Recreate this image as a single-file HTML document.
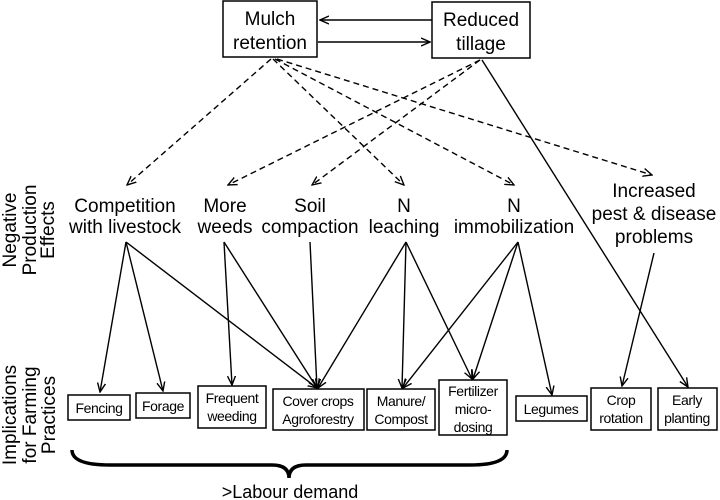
<!DOCTYPE html>
<html><head><meta charset="utf-8"><style>
html,body{margin:0;padding:0;background:#fff;}
svg{display:block;font-family:"Liberation Sans",Arial,sans-serif;}
</style></head><body>
<svg width="720" height="500" viewBox="0 0 720 500" xmlns="http://www.w3.org/2000/svg">
<defs>
<marker id="a" markerWidth="10" markerHeight="10" refX="9" refY="5" orient="auto" markerUnits="userSpaceOnUse">
<path d="M0,1 L9,5 L0,9" fill="none" stroke="#000" stroke-width="1.4"/>
</marker>
</defs>
<g fill="#fff" stroke="#000" stroke-width="1.5">
<rect x="223" y="1" width="94" height="56"/>
<rect x="432" y="2" width="98" height="56"/>
<rect x="68" y="395" width="62" height="25"/>
<rect x="136" y="393" width="54" height="25"/>
<rect x="198" y="386" width="68" height="42"/>
<rect x="273" y="389" width="91" height="41"/>
<rect x="367" y="389" width="68" height="41"/>
<rect x="439" y="380" width="68" height="55"/>
<rect x="516" y="396" width="71" height="25"/>
<rect x="591" y="388" width="60" height="42"/>
<rect x="658" y="388" width="59" height="42"/>
</g>
<g text-anchor="middle" font-size="19" fill="#000">
<text x="270" y="25">Mulch</text><text x="270" y="49">retention</text>
<text x="481" y="26">Reduced</text><text x="481" y="50">tillage</text>
<text x="125" y="212">Competition</text><text x="125" y="233">with livestock</text>
<text x="225" y="212">More</text><text x="225" y="233">weeds</text>
<text x="310" y="212">Soil</text><text x="310" y="233">compaction</text>
<text x="404" y="212">N</text><text x="404" y="233">leaching</text>
<text x="514" y="212">N</text><text x="514" y="233">immobilization</text>
<text x="654" y="197">Increased</text><text x="654" y="220">pest &amp; disease</text><text x="654" y="243">problems</text>
<text x="290" y="498" font-size="18">&gt;Labour demand</text>
</g>
<g text-anchor="middle" font-size="19">
<text transform="translate(16,230) rotate(-90)">Negative</text>
<text transform="translate(36,230) rotate(-90)">Production</text>
<text transform="translate(54,230) rotate(-90)">Effects</text>
<text transform="translate(16,415) rotate(-90)">Implications</text>
<text transform="translate(36,415) rotate(-90)">for Farming</text>
<text transform="translate(55,415) rotate(-90)">Practices</text>
</g>
<g text-anchor="middle" font-size="14" letter-spacing="-0.4">
<text x="99" y="413">Fencing</text>
<text x="163" y="411">Forage</text>
<text x="232" y="403">Frequent</text><text x="232" y="421">weeding</text>
<text x="318" y="406">Cover crops</text><text x="318" y="424">Agroforestry</text>
<text x="401" y="406">Manure/</text><text x="401" y="424">Compost</text>
<text x="473" y="396">Fertilizer</text><text x="473" y="414">micro-</text><text x="473" y="432">dosing</text>
<text x="551" y="414">Legumes</text>
<text x="621" y="405">Crop</text><text x="621" y="423">rotation</text>
<text x="687" y="405">Early</text><text x="687" y="423">planting</text>
</g>
<g stroke="#000" stroke-width="1.5" fill="none" marker-end="url(#a)">
<line x1="432" y1="20" x2="320" y2="20"/>
<line x1="318" y1="42" x2="430" y2="42"/>
</g>
<g stroke="#000" stroke-width="1.4" fill="none" stroke-dasharray="6,4" marker-end="url(#a)">
<line x1="271" y1="59" x2="127" y2="185"/>
<line x1="273" y1="59" x2="404" y2="185"/>
<line x1="275" y1="59" x2="514" y2="185"/>
<line x1="277" y1="59" x2="652" y2="175"/>
<line x1="480" y1="60" x2="228" y2="185"/>
<line x1="480" y1="60" x2="312" y2="185"/>
</g>
<g stroke="#000" stroke-width="1.4" fill="none" marker-end="url(#a)">
<line x1="482" y1="60" x2="688" y2="387"/>
<line x1="654" y1="253" x2="622" y2="386"/>
<line x1="126" y1="242" x2="100" y2="392"/>
<line x1="126" y1="242" x2="163" y2="391"/>
<line x1="126" y1="242" x2="317" y2="388"/>
<line x1="224" y1="242" x2="232" y2="385"/>
<line x1="224" y1="242" x2="317" y2="388"/>
<line x1="310" y1="242" x2="317" y2="388"/>
<line x1="406" y1="242" x2="318" y2="388"/>
<line x1="406" y1="242" x2="402" y2="388"/>
<line x1="406" y1="242" x2="472" y2="379"/>
<line x1="518" y1="242" x2="403" y2="388"/>
<line x1="518" y1="242" x2="473" y2="379"/>
<line x1="518" y1="242" x2="552" y2="395"/>
</g>
<path d="M72,450 Q72,465 110,465 L272,465 Q289,465 289,478 Q289,465 306,465 L470,465 Q507,465 507,450" fill="none" stroke="#000" stroke-width="3.5"/>
</svg>
</body></html>
